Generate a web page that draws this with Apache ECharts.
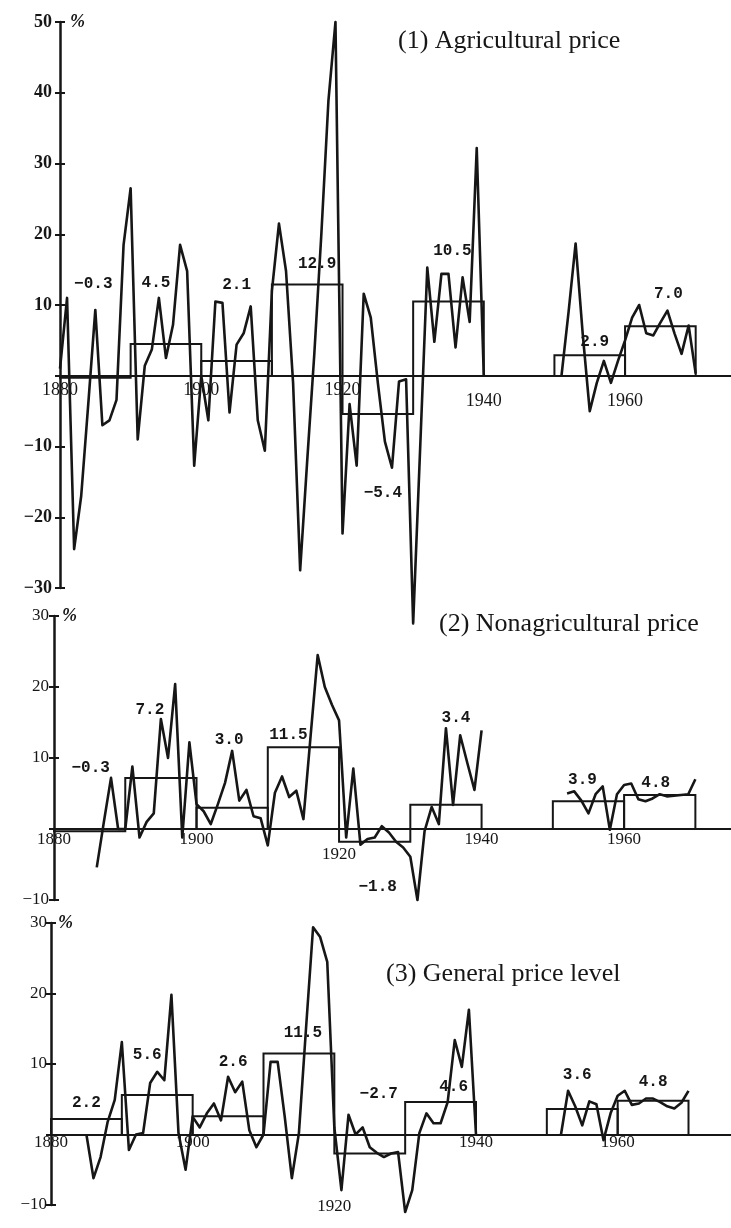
<!DOCTYPE html>
<html>
<head>
<meta charset="utf-8">
<script src="https://cdn.jsdelivr.net/npm/echarts@6/dist/echarts.min.js"></script>
<style>
  html, body { margin: 0; padding: 0; background: #fff; }
  #chart { width: 731px; height: 1228px; }
</style>
</head>
<body>
<div id="chart"></div>
<script>
// Annual rates of change of prices (%), with ten-year averages drawn as boxes.

// ---- (1) Agricultural price ----
const agriPrewarStart = 1880;
const agriPrewar = [
  1, 11, -24.5, -17, -4, 9.3, -7, -6.3, -3.4, 18.5,          // 1880-1889
  26.5, -9, 1.4, 3.7, 11, 2.5, 7.2, 18.5, 14.8, -12.7,       // 1890-1899
  0, -6.3, 10.5, 10.3, -5.2, 4.4, 6, 9.8, -6.3, -10.6,       // 1900-1909
  12, 21.5, 14.8, -1, -27.5, -12, 3, 20, 38.8, 50,           // 1910-1919
  -22.3, -4, -12.7, 11.6, 8.2, -1, -9.3, -13, -0.8, -0.5,    // 1920-1929
  -35, -10, 15.3, 4.8, 14.4, 14.4, 4, 13.9, 7.6, 32.2,       // 1930-1939
  0                                                          // 1940
];
const agriPostwarStart = 1951;
const agriPostwar = [
  0, 9, 18.7, 6, -5, -1, 2.1, -1, 2.1,                       // 1951-1959
  5, 8.2, 10, 6, 5.7, 7.5, 9.2, 6, 3.1, 7.1, 0.3             // 1960-1970
];
const agriDecadeAvg = [-0.3, 4.5, 2.1, 12.9, -5.4, 10.5, 2.9, 7.0];

// ---- (2) Nonagricultural price ----
const nonagriPrewarStart = 1886;
const nonagriPrewar = [
  -5.4, 1, 7.2, 0,                                           // 1886-1889
  0, 8.8, -1.2, 1, 2.2, 15.5, 10, 20.4, -1.2, 12.2,          // 1890-1899
  3.5, 2.5, 0.7, 3.5, 6.5, 11, 4, 5.5, 1.8, 1.5,             // 1900-1909
  -2.3, 5.1, 7.4, 4.5, 5.4, 1.4, 13, 24.5, 20, 17.5,         // 1910-1919
  15.3, -1.2, 8.5, -2.2, -1.4, -1.2, 0.4, -0.5, -1.8, -2.6,  // 1920-1929
  -3.9, -10, -0.3, 3.1, 0.7, 14.2, 3.4, 13.2, 9.3, 5.5,      // 1930-1939
  13.9                                                       // 1940
];
const nonagriPostwarStart = 1952;
const nonagriPostwar = [
  5, 5.3, 4, 2.2, 4.9, 6, -0.1, 4.9,                         // 1952-1959
  6.2, 6.4, 4.2, 3.9, 4.3, 4.9, 4.6, 4.7, 4.8, 4.9, 7        // 1960-1970
];
const nonagriDecadeAvg = [-0.3, 7.2, 3.0, 11.5, -1.8, 3.4, 3.9, 4.8];

// ---- (3) General price level ----
const generalPrewarStart = 1885;
const generalPrewar = [
  0, -6.2, -3.2, 1.8, 4.9,                                   // 1885-1889
  13.1, -2.2, 0, 0.2, 7.3, 8.9, 7.7, 19.8, 0.2, -5,          // 1890-1899
  2.5, 1, 3, 4.4, 2, 8.2, 6, 7.5, 0.6, -1.8,                 // 1900-1909
  0, 10.3, 10.3, 2.5, -6.2, 0.2, 15, 29.4, 28, 24.5,         // 1910-1919
  1, -7.9, 2.8, 0, 1, -1.8, -2.6, -3.2, -2.7, -2.5,          // 1920-1929
  -11, -7.9, 0.2, 3, 1.6, 1.6, 4.6, 13.4, 9.6, 17.7,         // 1930-1939
  0                                                          // 1940
];
const generalPostwarStart = 1952;
const generalPostwar = [
  0, 6.2, 4, 1.3, 4.7, 4.3, -0.8, 3,                         // 1952-1959
  5.5, 6.2, 4.2, 4.4, 5.1, 5.1, 4.6, 4, 3.7, 4.5, 6.2        // 1960-1970
];
const generalDecadeAvg = [2.2, 5.6, 2.6, 11.5, -2.7, 4.6, 3.6, 4.8];

// Decades over which the averages were taken (each box spans ten years)
const decadeStarts = [1880, 1890, 1900, 1910, 1920, 1930, 1950, 1960];
const DECADE_SPAN = 10;

const panelTitles = ['(1) Agricultural price', '(2) Nonagricultural price', '(3) General price level'];
const yUnit = '%';

// ---- layout and styling ----
const INK = '#161616';
const SERIF = '"Liberation Serif", "DejaVu Serif", serif';
const MONO = '"Liberation Mono", "DejaVu Sans Mono", monospace';

const layouts = [
  {
    grid: { left: 60, top: 22, width: 671, height: 566 },
    xMax: 1975, yMin: -30, yMax: 50,
    title: { left: 398, top: 28 },
    yFont: { size: 18, weight: 'bold' }, yMargin: 8, nameShift: 10,
    xFont: 18, xMargin: 6, lowTicks: [1940, 1960], lowPad: 11,
    // pixel offsets of each average label from the top-centre of its box
    labelOffsets: [[-2, -94], [-10, -61], [0, -76], [10, -21], [5, 79], [4, -50], [5, -13], [8, -32]]
  },
  {
    grid: { left: 54, top: 616, width: 677, height: 284 },
    xMax: 1975, yMin: -10, yMax: 30,
    title: { left: 439, top: 611 },
    yFont: { size: 17, weight: 'normal' }, yMargin: 5, nameShift: 8,
    xFont: 17, xMargin: 2, lowTicks: [1920], lowPad: 15,
    labelOffsets: [[1, -63], [-11, -68], [-3, -68], [-15, -12], [3, 45], [10, -87], [-6, -21], [-4, -12]]
  },
  {
    grid: { left: 51, top: 923, width: 680, height: 282 },
    xMax: 1976, yMin: -10, yMax: 30,
    title: { left: 386, top: 961 },
    yFont: { size: 17, weight: 'normal' }, yMargin: 4, nameShift: 7,
    xFont: 17, xMargin: 0, lowTicks: [1920], lowPad: 64,
    labelOffsets: [[0, -16], [-10, -40], [5, -54], [4, -20], [9, -60], [13, -15], [-5, -34], [0, -19]]
  }
];

const panelData = [
  { pre: [agriPrewarStart, agriPrewar], post: [agriPostwarStart, agriPostwar], avg: agriDecadeAvg },
  { pre: [nonagriPrewarStart, nonagriPrewar], post: [nonagriPostwarStart, nonagriPostwar], avg: nonagriDecadeAvg },
  { pre: [generalPrewarStart, generalPrewar], post: [generalPostwarStart, generalPostwar], avg: generalDecadeAvg }
];

const minus = s => String(s).replace('-', '\u2212');
const toPairs = (start, values) => values.map((v, i) => [start + i, v]);

function boxRenderer(offsets) {
  return function (params, api) {
    const start = api.value(0);
    const v = api.value(1);
    const a = api.coord([start, 0]);
    const b = api.coord([start, v]);
    const c = api.coord([start + DECADE_SPAN, v]);
    const d = api.coord([start + DECADE_SPAN, 0]);
    const off = offsets[params.dataIndex];
    return {
      type: 'group',
      children: [
        {
          type: 'polyline',
          shape: { points: [a, b, c, d] },
          style: { stroke: INK, lineWidth: 2, fill: null }
        },
        {
          type: 'text',
          x: (b[0] + c[0]) / 2 + off[0],
          y: b[1] + off[1],
          style: {
            text: minus(v.toFixed(1)),
            fill: INK,
            font: 'bold 16px ' + MONO,
            align: 'center',
            verticalAlign: 'middle'
          }
        }
      ]
    };
  };
}

const option = {
  animation: false,
  backgroundColor: '#fff',
  title: [], grid: [], xAxis: [], yAxis: [], series: []
};

layouts.forEach((L, k) => {
  const D = panelData[k];
  option.title.push({
    text: panelTitles[k], left: L.title.left, top: L.title.top, padding: 0,
    textStyle: { fontFamily: SERIF, fontSize: 26, fontWeight: 'normal', color: INK }
  });
  option.grid.push(Object.assign({ containLabel: false, outerBoundsMode: 'none' }, L.grid));

  // the year axis runs along the zero line: lift it from the grid bottom to y = 0
  const zeroLift = L.grid.height * (0 - L.yMin) / (L.yMax - L.yMin);
  const lowSet = L.lowTicks;
  option.xAxis.push({
    type: 'value', gridIndex: k, min: 1880, max: L.xMax, interval: 20,
    position: 'bottom', offset: -zeroLift,
    axisLine: { onZero: false, lineStyle: { color: INK, width: 2 } },
    axisTick: { show: false },
    splitLine: { show: false },
    axisLabel: {
      margin: L.xMargin, color: INK, fontFamily: SERIF, fontSize: L.xFont,
      showMaxLabel: false,
      formatter: v => (v % 20 !== 0 ? '' : (lowSet.indexOf(v) >= 0 ? '{lo|' + v + '}' : String(v))),
      rich: { lo: { fontFamily: SERIF, fontSize: L.xFont, color: INK, padding: [L.lowPad, 0, 0, 0] } }
    }
  });

  const yCommon = {
    type: 'value', gridIndex: k, position: 'left', offset: 0,
    min: L.yMin, max: L.yMax, interval: 10,
    splitLine: { show: false }
  };
  // main y axis with labels and outward ticks (the zero line carries no label)
  option.yAxis.push(Object.assign({}, yCommon, {
    name: yUnit, nameLocation: 'end', nameGap: 0,
    nameTextStyle: {
      fontFamily: SERIF, fontSize: 18, fontWeight: 'bold', fontStyle: 'italic', color: INK,
      align: 'left', verticalAlign: 'middle', padding: [0, 0, 0, L.nameShift]
    },
    axisLine: { show: true, onZero: false, lineStyle: { color: INK, width: 2.5 } },
    axisTick: { show: true, length: 5, lineStyle: { color: INK, width: 2 } },
    axisLabel: {
      margin: L.yMargin, color: INK, fontFamily: SERIF,
      fontSize: L.yFont.size, fontWeight: L.yFont.weight,
      formatter: v => (v === 0 ? '' : minus(v))
    }
  }));
  // twin axis only for the inward half of each tick mark
  option.yAxis.push(Object.assign({}, yCommon, {
    axisLine: { show: false, onZero: false },
    axisTick: { show: true, inside: true, length: 5, lineStyle: { color: INK, width: 2 } },
    axisLabel: { show: false }
  }));

  const lineStyle = { color: INK, width: 2.6, join: 'round' };
  option.series.push({
    type: 'line', xAxisIndex: k, yAxisIndex: 2 * k, data: toPairs(D.pre[0], D.pre[1]),
    symbol: 'none', lineStyle, clip: false, z: 3
  });
  option.series.push({
    type: 'line', xAxisIndex: k, yAxisIndex: 2 * k, data: toPairs(D.post[0], D.post[1]),
    symbol: 'none', lineStyle, clip: false, z: 3
  });
  option.series.push({
    type: 'custom', xAxisIndex: k, yAxisIndex: 2 * k,
    data: decadeStarts.map((s, i) => [s, D.avg[i]]),
    renderItem: boxRenderer(L.labelOffsets), clip: false, z: 2
  });
});

const chart = echarts.init(document.getElementById('chart'), null, { renderer: 'canvas' });
chart.setOption(option);
</script>
</body>
</html>
